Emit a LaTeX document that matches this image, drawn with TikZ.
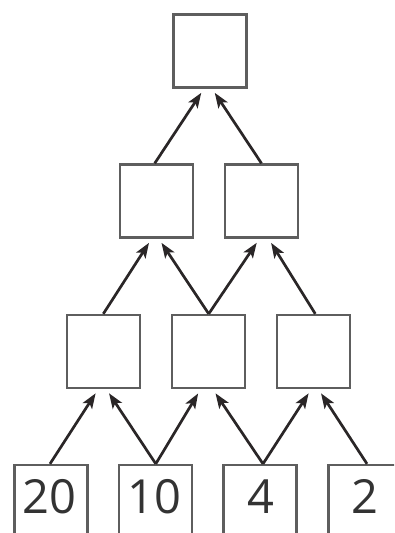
\documentclass[tikz,border=0pt]{standalone}
\usepackage{fontspec}
\setmainfont{Open Sans}
\usetikzlibrary{arrows.meta}
\definecolor{boxgray}{HTML}{5E5E5E}
\definecolor{arrowdark}{HTML}{2A2627}
\begin{document}
\begin{tikzpicture}[x=1pt,y=-1pt,
  numbox/.style={draw=boxgray,line width=2.3pt,minimum width=73pt,minimum height=73pt,inner sep=0pt,fill=white},
  arr/.style={draw=arrowdark,line width=2.7pt,-{Stealth[length=15pt,width=11pt,inset=3.5pt]},shorten >=5pt},
  numtext/.style={font=\fontsize{47}{47}\selectfont,text=black!80,anchor=base,inner sep=0pt}]
\useasboundingbox (0,0) rectangle (394,533);
\clip (0,0) rectangle (394,533);
% boxes
\node[numbox] (t) at (210,51) {};
\node[numbox] (l2) at (156.7,201) {};
\node[numbox] (r2) at (261.5,201) {};
\node[numbox] (a3) at (103.3,351.5) {};
\node[numbox] (b3) at (208.7,351.5) {};
\node[numbox] (c3) at (313.3,351.5) {};
\node[numbox] (d20) at (51,501.5) {};
\node[numbox] (d10) at (155.8,501.5) {};
\node[numbox] (d4) at (260,501.5) {};
\node[numbox] (d2) at (365,501.5) {};
% numbers
\node[numtext] (n20) at (49,513) {20};
\node[numtext] (n10) at (154,513) {10};
\node[numtext] (n4) at (261,513) {4};
\node[numtext] (n2) at (365,513) {2};
% arrows row 4 -> row 3
\draw[arr] ([xshift=-1pt]d20.north) -- ([xshift=-5pt]a3.south);
\draw[arr] (d10.north) -- ([xshift=3pt]a3.south);
\draw[arr] (d10.north) -- ([xshift=-8pt]b3.south);
\draw[arr] ([xshift=3pt]d4.north) -- ([xshift=4pt]b3.south);
\draw[arr] ([xshift=3pt]d4.north) -- ([xshift=-2pt]c3.south);
\draw[arr] ([xshift=2pt]d2.north) -- ([xshift=5pt]c3.south);
% arrows row 3 -> row 2
\draw[arr] (a3.north) -- ([xshift=-5pt]l2.south);
\draw[arr] (b3.north) -- ([xshift=2pt]l2.south);
\draw[arr] (b3.north) -- ([xshift=-2pt]r2.south);
\draw[arr] ([xshift=2pt]c3.north) -- ([xshift=7pt]r2.south);
% arrows row 2 -> top
\draw[arr] ([xshift=-2pt]l2.north) -- ([xshift=-6pt]t.south);
\draw[arr] (r2.north) -- ([xshift=2pt]t.south);
\end{tikzpicture}
\end{document}
